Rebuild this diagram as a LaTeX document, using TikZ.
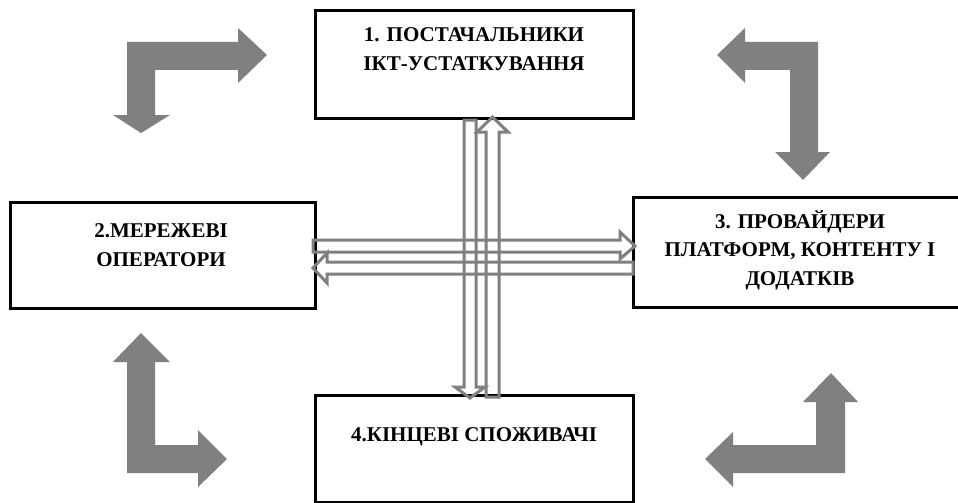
\documentclass[tikz,border=0pt]{standalone}
\usepackage{fontspec}
\setmainfont{Liberation Serif}
\begin{document}
\begin{tikzpicture}[x=1pt,y=-1pt,
  box/.style={draw=black, line width=3pt, minimum width=#1, inner sep=0pt},
  boxtext/.style={font=\bfseries\fontsize{21}{28.5}\selectfont, align=center, inner sep=0pt},
  hollow/.style={draw=arrowgray, line width=3pt, line join=miter},
  bent/.style={fill=arrowgray, draw=none}]
\definecolor{arrowgray}{HTML}{808080}
\useasboundingbox (0,0) rectangle (958,503);
\fill[white] (0,0) rectangle (958,503);

% boxes
\node[box=318pt, minimum height=107pt] (b1) at (474,64.5) {};
\node[box=305pt, minimum height=106pt] (b2) at (162.5,255) {};
\node[box=334pt, minimum height=110pt] (b3) at (800,252) {};
\node[box=318pt, minimum height=107pt] (b4) at (474,448.5) {};

\node[boxtext] (t1) at (474,49) {1. ПОСТАЧАЛЬНИКИ\\ІКТ-УСТАТКУВАННЯ};
\node[boxtext] (t2) at (161,245) {2.МЕРЕЖЕВІ\\ОПЕРАТОРИ};
\node[boxtext] (t3) at (800,250) {3. ПРОВАЙДЕРИ\\ПЛАТФОРМ, КОНТЕНТУ І\\ДОДАТКІВ};
\node[boxtext] (t4) at (474,437) {4.КІНЦЕВІ СПОЖИВАЧІ};

% hollow connectors: 1 -> 4 (down)
\draw[hollow] (464,120) -- (476,120) -- (476,387) -- (485,387) -- (470,398)
  -- (455,387) -- (464,387) -- cycle;
% 4 -> 1 (up)
\draw[hollow] (486,397) -- (499,397) -- (499,132) -- (508,132) -- (492.5,117)
  -- (477,132) -- (486,132) -- cycle;
% 2 -> 3 (right)
\draw[hollow] (313,240) -- (620,240) -- (620,232) -- (635,246) -- (620,259)
  -- (620,252) -- (313,252) -- cycle;
% 3 -> 2 (left)
\draw[hollow] (633,262) -- (327,262) -- (327,253) -- (313,268) -- (327,283)
  -- (327,274) -- (633,274) -- cycle;

% bent solid arrows
% top-left
\fill[bent] (127,115) -- (113,115) -- (141,133) -- (170,115) -- (155,115)
  -- (155,70) -- (238,70) -- (238,83) -- (267,55) -- (238,28) -- (238,42)
  -- (127,42) -- cycle;
% top-right
\fill[bent] (818,42) -- (745,42) -- (745,28) -- (717,55) -- (745,83)
  -- (745,70) -- (790,70) -- (790,152) -- (775,152) -- (803,180) -- (830,152)
  -- (818,152) -- cycle;
% bottom-left
\fill[bent] (127,473) -- (127,362) -- (113,362) -- (141,333) -- (170,362)
  -- (155,362) -- (155,445) -- (198,445) -- (198,430) -- (227,459)
  -- (198,487) -- (198,473) -- cycle;
% bottom-right
\fill[bent] (845,473) -- (733,473) -- (733,487) -- (705,459) -- (733,432)
  -- (733,445) -- (816,445) -- (816,402) -- (803,402) -- (831,373)
  -- (858,402) -- (845,402) -- cycle;
\end{tikzpicture}
\end{document}
